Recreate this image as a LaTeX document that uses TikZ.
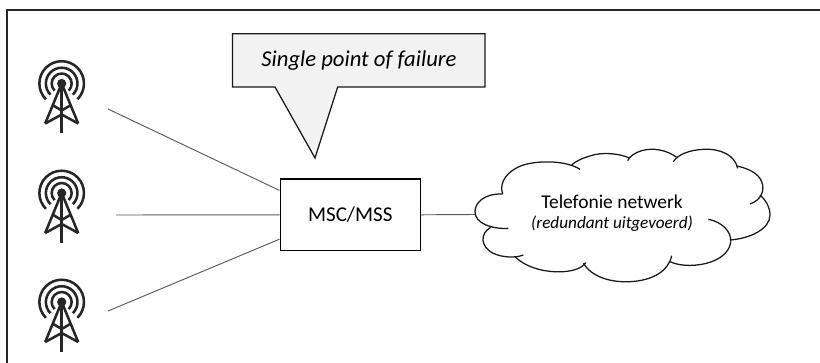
\documentclass[tikz,border=0pt]{standalone}
\usepackage{fontspec}
\setmainfont{Carlito}
\tikzset{
  wire/.style={draw=black!65,line width=0.7pt},
  framing/.style={draw=black!85,line width=1.5pt},
  outline/.style={draw=black!90,line width=0.95pt},
  mast/.style={line width=1.9pt,black!85},
  tower/.pic={
    \draw[mast] (-7.1,7.1) arc[start angle=135,end angle=405,radius=10];
    \draw[mast] (-11.2,11.2) arc[start angle=135,end angle=405,radius=15.8];
    \draw[mast] (-15.8,15.8) arc[start angle=135,end angle=405,radius=22.3];
    \fill[black!85] (0,0) circle (4.6);
    \draw[mast,line join=round] (-16.5,40) -- (0,0) -- (16.5,40);
    \draw[mast] (0,0) -- (0,50);
    \draw[mast] (-8.5,22) -- (0,27) -- (8.5,22);
    \draw[mast] (-16.5,40) -- (0,31) -- (16.5,40);
  }
}
\begin{document}
\begin{tikzpicture}[x=0.75pt,y=-0.75pt]
  \useasboundingbox (0,0) rectangle (820,363);
  % Frame
  \draw[framing] (6.5,363) -- (6.5,10) -- (820,10);

  % Antennas
  \pic at (61.7,83.5) {tower};
  \pic at (61.7,193) {tower};
  \pic at (61.7,302) {tower};

  % Switch
  \node[draw=black,line width=1.2pt,minimum width=105pt,minimum height=53.25pt,inner sep=0pt] (msc) at (350.3,214.8) {\fontsize{15.8}{18}\selectfont MSC/MSS};
  \coordinate (top) at (108,109);
  \coordinate (mid) at (116,215);
  \coordinate (low) at (108,311);
  \coordinate (net) at (475,214.5);
  \draw[wire] (top) -- (msc.161);
  \draw[wire] (mid) -- (msc.west);
  \draw[wire] (low) -- (msc.199);
  \draw[wire] (msc.east) -- (net);

  % Callout
  \draw[outline,fill=black!5,line join=miter] (232.5,33.7) -- (485,33.7) -- (485,87) -- (337.7,87) -- (315,158) -- (275,87) -- (232.5,87) -- cycle;
  \node[inner sep=0pt] (failure) at (359,61) {\fontsize{17}{20}\selectfont\itshape Single point of failure};

  % Cloud
  \begin{scope}[shift={(460,140)},x=0.25pt,y=-0.25pt]
    \draw[outline] (128,162) .. controls (70,160) and (45,190) .. (45,215) .. controls (45,250) and (95,268) .. (145,265);
    \draw[outline] (92,262) .. controls (60,280) and (60,320) .. (100,340) .. controls (125,352) and (165,355) .. (190,345);
    \draw[outline] (165,350) .. controls (200,385) and (260,398) .. (310,395) .. controls (340,393) and (365,385) .. (378,368);
    \draw[outline] (370,370) .. controls (395,410) and (450,428) .. (510,425) .. controls (575,422) and (625,395) .. (635,347);
    \draw[outline] (630,365) .. controls (660,380) and (715,380) .. (755,365) .. controls (790,352) and (810,330) .. (812,305);
    \draw[outline] (745,238) .. controls (785,245) and (815,275) .. (812,305);
    \draw[outline] (810,300) .. controls (875,295) and (930,265) .. (930,225) .. controls (930,200) and (915,178) .. (900,165);
    \draw[outline] (870,192) .. controls (905,180) and (915,150) .. (905,125) .. controls (895,100) and (865,85) .. (830,78);
    \draw[outline] (833,85) .. controls (825,45) and (780,25) .. (730,28) .. controls (690,30) and (655,42) .. (640,65);
    \draw[outline] (650,52) .. controls (620,30) and (580,22) .. (545,32) .. controls (525,38) and (510,48) .. (503,62);
    \draw[outline] (510,55) .. controls (480,40) and (425,35) .. (390,48) .. controls (365,55) and (345,65) .. (335,75);
    \draw[outline] (360,88) .. controls (320,62) and (240,60) .. (190,75) .. controls (145,90) and (115,125) .. (128,162);
  \end{scope}
  \node[inner sep=0pt] (telefonie) at (612,201.5) {\fontsize{14.6}{17}\selectfont Telefonie netwerk};
  \node[inner sep=0pt] (redundant) at (612,224) {\fontsize{12.9}{15}\selectfont\itshape (redundant uitgevoerd)};
\end{tikzpicture}
\end{document}
